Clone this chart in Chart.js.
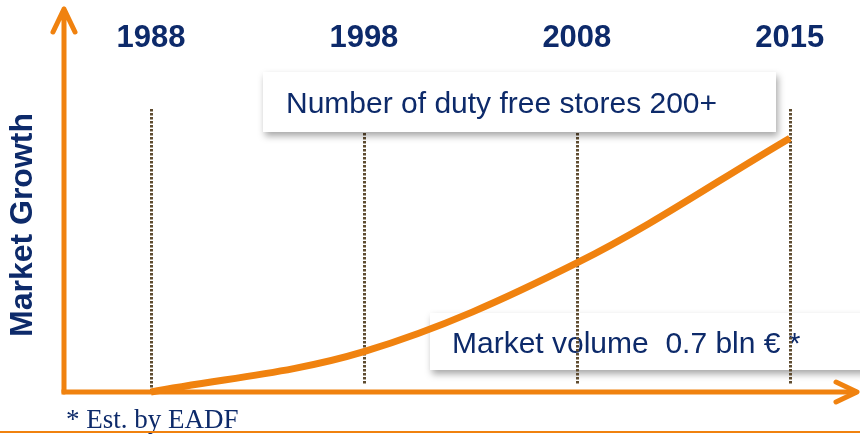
<!DOCTYPE html>
<html>
<head>
<meta charset="utf-8">
<title>Market Growth</title>
<script src="https://cdn.jsdelivr.net/npm/chart.js@4"></script>
<style>
  html, body { margin: 0; padding: 0; background: #ffffff; }
  #wrap { width: 860px; height: 434px; position: relative; }
</style>
</head>
<body>
<div id="wrap"><canvas id="growthChart"></canvas></div>
<script>
  // Timeline labels (one dotted marker per year)
  const yearLabels = ['1988', '1998', '2008', '2015'];
  // Curve samples: position on the timeline (in label steps) and growth level
  const timelineSteps = [0, 1, 2, 3];
  const marketGrowth = [0, 10.5, 33.6, 66.1];

  const axisTitle = 'Market Growth';
  const storesNote = 'Number of duty free stores 200+';
  const volumeNote = 'Market volume  0.7 bln \u20AC *';
  const sourceNote = '* Est. by EADF';

  const ORANGE = '#f0820f';
  const NAVY = '#0d2a6a';
  const DOTS = '#5f4c30';

  // White note box with soft shadow
  function drawNoteBox(ctx, x, y, w, h, text, tx, ty) {
    ctx.save();
    ctx.shadowColor = 'rgba(0,0,0,0.35)';
    ctx.shadowBlur = 7;
    ctx.shadowOffsetX = 2;
    ctx.shadowOffsetY = 4;
    ctx.fillStyle = '#ffffff';
    ctx.fillRect(x, y, w, h);
    ctx.restore();
    ctx.save();
    ctx.fillStyle = NAVY;
    ctx.font = '30px "Liberation Sans", Arial, sans-serif';
    ctx.textBaseline = 'alphabetic';
    ctx.fillText(text, tx, ty);
    ctx.restore();
  }

  const timelinePlugin = {
    id: 'timeline',
    beforeDatasetsDraw(chart) {
      const ctx = chart.ctx;
      const area = chart.chartArea;
      const x = chart.scales.x;

      // lower note sits under the dotted markers
      drawNoteBox(ctx, 430, 313, 440, 57, volumeNote, 452, 353);

      // dotted year markers
      ctx.save();
      ctx.strokeStyle = DOTS;
      ctx.lineWidth = 3;
      ctx.setLineDash([2.5, 1.5]);
      yearLabels.forEach((label, i) => {
        const px = Math.round(x.getPixelForValue(i)) + 0.5;
        ctx.beginPath();
        ctx.moveTo(px, 109);
        ctx.lineTo(px, i === 0 ? area.bottom : 385);
        ctx.stroke();
      });
      ctx.restore();

      // upper note covers the tops of the markers
      drawNoteBox(ctx, 263, 72, 513, 60, storesNote, 286, 113);

      // year labels
      ctx.save();
      ctx.fillStyle = NAVY;
      ctx.font = 'bold 31px "Liberation Sans", Arial, sans-serif';
      ctx.textAlign = 'center';
      ctx.textBaseline = 'middle';
      yearLabels.forEach((label, i) => {
        ctx.fillText(label, x.getPixelForValue(i), 38);
      });
      ctx.restore();

      // axes with arrow heads
      ctx.save();
      ctx.strokeStyle = ORANGE;
      ctx.lineWidth = 5;
      ctx.lineCap = 'round';
      ctx.lineJoin = 'round';
      ctx.beginPath();
      ctx.moveTo(area.left, area.bottom);
      ctx.lineTo(area.left, area.top + 1);
      ctx.moveTo(area.left - 11, area.top + 24);
      ctx.lineTo(area.left, area.top + 1);
      ctx.lineTo(area.left + 11, area.top + 24);
      ctx.stroke();
      ctx.lineCap = 'butt';
      ctx.beginPath();
      ctx.moveTo(area.left - 2.5, area.bottom);
      ctx.lineTo(area.right - 1, area.bottom);
      ctx.stroke();
      ctx.lineCap = 'round';
      ctx.beginPath();
      ctx.moveTo(area.right - 22, area.bottom - 10);
      ctx.lineTo(area.right - 1, area.bottom);
      ctx.lineTo(area.right - 22, area.bottom + 10);
      ctx.stroke();
      ctx.restore();

      // axis title
      ctx.save();
      ctx.translate(23, 225);
      ctx.rotate(-Math.PI / 2);
      ctx.fillStyle = NAVY;
      ctx.font = 'bold 32px "Liberation Sans", Arial, sans-serif';
      ctx.textAlign = 'center';
      ctx.textBaseline = 'middle';
      ctx.fillText(axisTitle, 0, 0);
      ctx.restore();

      // footnote and bottom rule
      ctx.save();
      ctx.fillStyle = NAVY;
      ctx.font = '27px "Liberation Serif", "Times New Roman", serif';
      ctx.fillText(sourceNote, 66, 428);
      ctx.fillStyle = ORANGE;
      ctx.fillRect(0, 431, chart.width, 2);
      ctx.restore();
    }
  };

  function renderGrowthChart() {
    const ctx = document.getElementById('growthChart').getContext('2d');
    new Chart(ctx, {
      type: 'line',
      data: {
        datasets: [{
          data: timelineSteps.map((s, i) => ({ x: s, y: marketGrowth[i] })),
          borderColor: ORANGE,
          borderWidth: 7,
          pointRadius: 0,
          tension: 0.35,
          fill: false,
          clip: false,
        }]
      },
      options: {
        responsive: true,
        maintainAspectRatio: false,
        animation: false,
        layout: { padding: { left: 64, right: 2, top: 8, bottom: 42 } },
        scales: {
          x: { type: 'linear', display: false, min: -0.408, max: 3.32 },
          y: { display: false, min: 0, max: 100 },
        },
        plugins: {
          legend: { display: false },
          tooltip: { enabled: false },
        },
      },
      plugins: [timelinePlugin],
    });
  }

  renderGrowthChart();
</script>
</body>
</html>
